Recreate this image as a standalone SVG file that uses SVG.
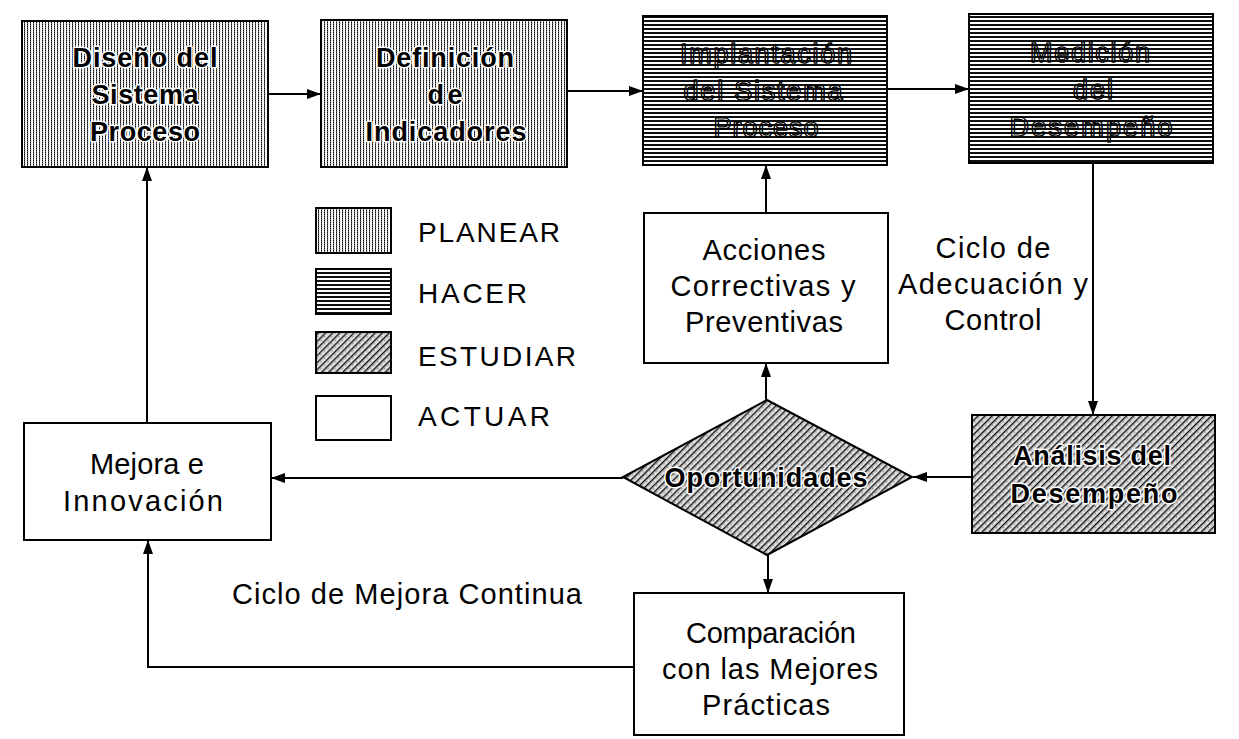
<svg xmlns="http://www.w3.org/2000/svg" width="1239" height="739" viewBox="0 0 1239 739">
<defs>
  <pattern id="planear" patternUnits="userSpaceOnUse" width="3" height="2">
    <rect width="3" height="2" fill="#fff"/>
    <rect x="0" y="0" width="1" height="1" fill="#000"/>
    <rect x="0" y="1" width="1" height="1" fill="#666"/>
    <rect x="1" y="1" width="1" height="1" fill="#ddd"/>
  </pattern>
  <pattern id="hacer" patternUnits="userSpaceOnUse" width="8" height="4">
    <rect width="8" height="4" fill="#fff"/>
    <rect x="0" y="0" width="8" height="2" fill="#111"/>
  </pattern>
  <pattern id="estudiar" patternUnits="userSpaceOnUse" width="5" height="5" patternTransform="rotate(45)">
    <rect width="5" height="5" fill="#d4d4d4"/>
    <rect x="0" y="0" width="1.3" height="5" fill="#111"/>
    <rect x="3" y="1" width="1" height="1" fill="#fff"/>
    <rect x="2" y="3" width="1" height="1" fill="#888"/>
  </pattern>
  <marker id="ah" viewBox="0 0 14 10" refX="14" refY="5" markerWidth="14" markerHeight="10" markerUnits="userSpaceOnUse" orient="auto">
    <path d="M0,0 L14,5 L0,10 Z" fill="#000"/>
  </marker>
</defs>
<style>
  .box { stroke: #000; stroke-width: 2; }
  .act { fill: #fff; }
  .pl { fill: url(#planear); }
  .ha { fill: url(#hacer); }
  .es { fill: url(#estudiar); }
  .bt { font-family: "Liberation Sans", Arial, sans-serif; font-weight: bold; font-size: 27px; fill: #000; stroke: #fff; stroke-width: 3; paint-order: stroke; stroke-linejoin: round; text-anchor: middle; }
  .ht { font-family: "Liberation Sans", Arial, sans-serif; font-size: 27px; fill: #fff; stroke: #000; stroke-width: 1.2; text-anchor: middle; }
  .rt { font-family: "Liberation Sans", Arial, sans-serif; font-size: 29px; fill: #000; text-anchor: middle; }
  .lt { font-family: "Liberation Sans", Arial, sans-serif; font-size: 28px; fill: #000; }
  .cn { fill: none; stroke: #000; stroke-width: 2; }
</style>
<rect width="1239" height="739" fill="#fff"/>

<g id="connectors">
  <line class="cn" x1="268" y1="94" x2="321" y2="94" marker-end="url(#ah)"/>
  <line class="cn" x1="567" y1="91" x2="643" y2="91" marker-end="url(#ah)"/>
  <line class="cn" x1="887" y1="89" x2="969" y2="89" marker-end="url(#ah)"/>
  <line class="cn" x1="1093" y1="163" x2="1093" y2="415" marker-end="url(#ah)"/>
  <line class="cn" x1="972" y1="477" x2="913" y2="477" marker-end="url(#ah)"/>
  <line class="cn" x1="766" y1="400" x2="766" y2="363" marker-end="url(#ah)"/>
  <line class="cn" x1="766" y1="213" x2="766" y2="165" marker-end="url(#ah)"/>
  <line class="cn" x1="623" y1="478" x2="271" y2="478" marker-end="url(#ah)"/>
  <line class="cn" x1="768" y1="555" x2="768" y2="593" marker-end="url(#ah)"/>
  <path class="cn" d="M634,667 H148 V540" marker-end="url(#ah)"/>
  <line class="cn" x1="147" y1="423" x2="147" y2="167" marker-end="url(#ah)"/>
</g>

<g id="diseno">
  <rect class="box pl" x="22" y="21" width="246" height="146"/>
  <text class="bt" x="145" y="67" textLength="145">Diseño del</text>
  <text class="bt" x="145" y="104" textLength="107">Sistema</text>
  <text class="bt" x="145" y="141" textLength="110">Proceso</text>
</g>

<g id="definicion">
  <rect class="box pl" x="321" y="20" width="246" height="147"/>
  <text class="bt" x="445" y="67" textLength="138">Definición</text>
  <text class="bt" x="445" y="104" textLength="35">de</text>
  <text class="bt" x="446" y="141" textLength="161">Indicadores</text>
</g>

<g id="implantacion">
  <rect class="box ha" x="643" y="16" width="244" height="149"/>
  <text class="ht" x="766" y="63" textLength="172" stroke="#fff" stroke-width="5">Implantación</text>
  <text class="ht" x="766" y="63" textLength="172" style="fill:url(#hacer)">Implantación</text>
  <text class="ht" x="763" y="100" textLength="159" stroke="#fff" stroke-width="5">del Sistema</text>
  <text class="ht" x="763" y="100" textLength="159" style="fill:url(#hacer)">del Sistema</text>
  <text class="ht" x="766" y="137" textLength="105" stroke="#fff" stroke-width="5">Proceso</text>
  <text class="ht" x="766" y="137" textLength="105" style="fill:url(#hacer)">Proceso</text>
</g>

<g id="medicion">
  <rect class="box ha" x="969" y="14" width="244" height="149"/>
  <text class="ht" x="1090" y="62" textLength="120" stroke="#fff" stroke-width="5">Medición</text>
  <text class="ht" x="1090" y="62" textLength="120" style="fill:url(#hacer)">Medición</text>
  <text class="ht" x="1093" y="99" textLength="40" stroke="#fff" stroke-width="5">del</text>
  <text class="ht" x="1093" y="99" textLength="40" style="fill:url(#hacer)">del</text>
  <text class="ht" x="1091" y="136" textLength="163" stroke="#fff" stroke-width="5">Desempeño</text>
  <text class="ht" x="1091" y="136" textLength="163" style="fill:url(#hacer)">Desempeño</text>
</g>

<g id="legend">
  <rect class="box pl" x="316" y="208" width="75" height="45"/>
  <text class="lt" x="418" y="242" textLength="142">PLANEAR</text>
  <rect class="box ha" x="316" y="269" width="75" height="45"/>
  <text class="lt" x="418" y="303" textLength="109">HACER</text>
  <rect class="box es" x="316" y="332" width="75" height="41"/>
  <text class="lt" x="418" y="366" textLength="158">ESTUDIAR</text>
  <rect class="box act" x="316" y="396" width="75" height="44"/>
  <text class="lt" x="418" y="426" textLength="132">ACTUAR</text>
</g>

<g id="acciones">
  <rect class="box act" x="644" y="213" width="244" height="150"/>
  <text class="rt" x="764" y="260" textLength="123">Acciones</text>
  <text class="rt" x="763" y="296" textLength="185">Correctivas y</text>
  <text class="rt" x="764" y="332" textLength="158">Preventivas</text>
</g>

<g id="ciclo-adecuacion">
  <text class="rt" x="993" y="258" textLength="115">Ciclo de</text>
  <text class="rt" x="993" y="294" textLength="190">Adecuación y</text>
  <text class="rt" x="993" y="330" textLength="97">Control</text>
</g>

<g id="analisis">
  <rect class="box es" x="972" y="415" width="243" height="118"/>
  <text class="bt" x="1092" y="465" textLength="158">Análisis del</text>
  <text class="bt" x="1094" y="503" textLength="167">Desempeño</text>
</g>

<g id="oportunidades">
  <polygon class="box es" points="767,400 912,477 767,555 623,477"/>
  <text class="bt" x="766" y="487" textLength="203">Oportunidades</text>
</g>

<g id="mejora">
  <rect class="box act" x="24" y="423" width="247" height="117"/>
  <text class="rt" x="147" y="474" textLength="114">Mejora e</text>
  <text class="rt" x="143" y="511" textLength="160">Innovación</text>
</g>

<g id="ciclo-mejora">
  <text class="rt" x="407" y="604" textLength="350">Ciclo de Mejora Continua</text>
</g>

<g id="comparacion">
  <rect class="box act" x="634" y="593" width="270" height="142"/>
  <text class="rt" x="771" y="643" textLength="170">Comparación</text>
  <text class="rt" x="770" y="679" textLength="216">con las Mejores</text>
  <text class="rt" x="766" y="715" textLength="128">Prácticas</text>
</g>
</svg>
